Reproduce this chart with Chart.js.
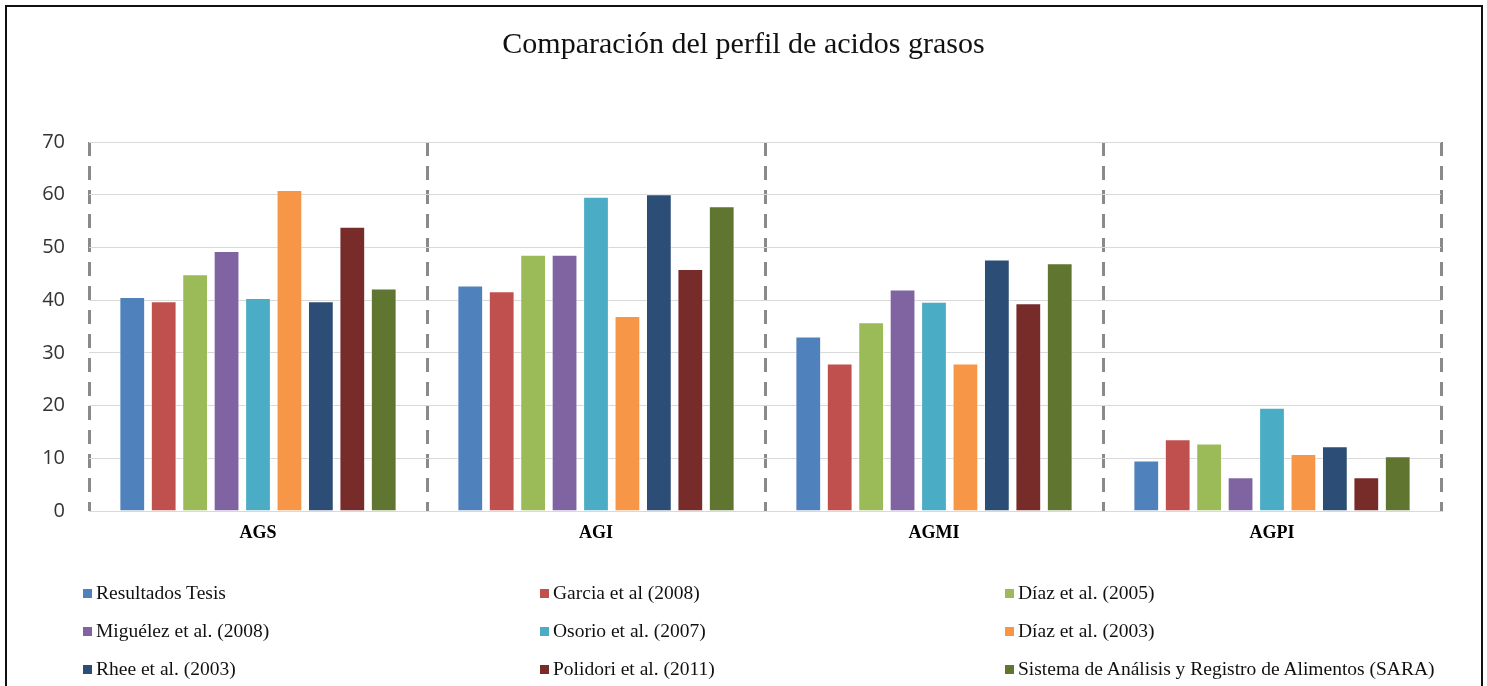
<!DOCTYPE html>
<html lang="es">
  <head>
    <meta charset="UTF-8" />
    <title>Comparación del perfil de acidos grasos</title>
    <style>
      * {
        box-sizing: border-box;
        margin: 0;
        padding: 0;
      }

      body {
        background-color: #ffffff;
        overflow: hidden;
      }

      .chart-wrap {
        position: relative;
        width: 1487px;
        height: 686px;
      }

      .frame {
        position: absolute;
        left: 5px;
        top: 5px;
        width: 1478px;
        height: 720px;
        border: 2px solid #111;
        pointer-events: none;
      }

      .legend-item {
        position: absolute;
        display: flex;
        align-items: center;
        font-family: "Liberation Serif", "Times New Roman", serif;
        font-size: 19.5px;
        color: #111;
        white-space: nowrap;
        height: 20px;
      }

      .legend-box {
        width: 9px;
        height: 9px;
        margin-right: 4px;
      }
    </style>
    <script src="https://cdn.jsdelivr.net/npm/chart.js"></script>
  </head>
  <body>
    <div class="chart-wrap">
      <canvas id="acidosChart"></canvas>
      <div class="frame"></div>
      <div id="legend"></div>
    </div>
    <script>
      const categories = ["AGS", "AGI", "AGMI", "AGPI"];
      const yTicks = [0, 10, 20, 30, 40, 50, 60, 70];

      const seriesNames = [
        "Resultados Tesis",
        "Garcia et al (2008)",
        "Díaz et al. (2005)",
        "Miguélez et al. (2008)",
        "Osorio et al. (2007)",
        "Díaz et al. (2003)",
        "Rhee et al. (2003)",
        "Polidori et al. (2011)",
        "Sistema de Análisis y Registro de Alimentos (SARA)",
      ];

      const resultadosTesis = [40.6, 42.8, 33.1, 9.6];
      const garcia2008 = [39.8, 41.7, 28.0, 13.6];
      const diaz2005 = [44.9, 48.6, 35.8, 12.8];
      const miguelez2008 = [49.3, 48.6, 42.0, 6.4];
      const osorio2007 = [40.4, 59.6, 39.7, 19.6];
      const diaz2003 = [60.9, 37.0, 28.0, 10.8];
      const rhee2003 = [39.8, 60.1, 47.7, 12.3];
      const polidori2011 = [53.9, 45.9, 39.4, 6.4];
      const sara = [42.2, 57.8, 47.0, 10.4];

      const seriesValues = [
        resultadosTesis,
        garcia2008,
        diaz2005,
        miguelez2008,
        osorio2007,
        diaz2003,
        rhee2003,
        polidori2011,
        sara,
      ];

      const colors = [
        "#4f81bd",
        "#c0504d",
        "#9bbb59",
        "#8064a2",
        "#4bacc6",
        "#f79646",
        "#2c4d75",
        "#772c2a",
        "#5f7530",
      ];

      // legend in three columns, like the original
      const legendCols = [83, 540, 1005];
      const legendRows = [583, 621, 659];

      function buildLegend() {
        const legend = document.getElementById("legend");
        seriesNames.forEach((name, i) => {
          const item = document.createElement("div");
          item.className = "legend-item";
          item.style.left = legendCols[i % 3] + "px";
          item.style.top = legendRows[Math.floor(i / 3)] + "px";
          const box = document.createElement("span");
          box.className = "legend-box";
          box.style.backgroundColor = colors[i];
          const text = document.createElement("span");
          text.textContent = name;
          item.appendChild(box);
          item.appendChild(text);
          legend.appendChild(item);
        });
      }

      function initChart() {
        const ctx = document.getElementById("acidosChart").getContext("2d");

        const datasets = seriesNames.map((name, i) => ({
          label: name,
          data: seriesValues[i],
          backgroundColor: colors[i],
          borderColor: "rgba(255,255,255,0.45)",
          borderWidth: 1,
          categoryPercentage: 0.837,
          barPercentage: 0.82,
        }));

        new Chart(ctx, {
          type: "bar",
          data: {
            labels: categories,
            datasets: datasets,
          },
          options: {
            responsive: true,
            maintainAspectRatio: false,
            animation: false,
            layout: {
              padding: 0,
            },
            plugins: {
              legend: { display: false },
              tooltip: { enabled: false },
              title: {
                display: true,
                text: "Comparación del perfil de acidos grasos",
                color: "#111",
                font: {
                  family: "'Liberation Serif', 'Times New Roman', serif",
                  size: 30,
                  weight: "normal",
                },
                padding: { top: 27, bottom: 79 },
              },
            },
            scales: {
              x: {
                offset: true,
                grid: {
                  offset: true,
                  color: "#8a8a8a",
                  lineWidth: 3,
                  drawTicks: false,
                },
                border: {
                  display: true,
                  color: "#d9d9d9",
                  width: 1,
                  dash: [14, 10],
                },
                ticks: {
                  padding: 12,
                  color: "#000",
                  font: {
                    family: "'Liberation Serif', 'Times New Roman', serif",
                    size: 18,
                    weight: "bold",
                  },
                },
                afterFit: (scale) => {
                  scale.height = 175;
                },
              },
              y: {
                min: yTicks[0],
                max: yTicks[yTicks.length - 1],
                grid: {
                  color: "#d9d9d9",
                  lineWidth: 1,
                  drawTicks: false,
                },
                border: { display: false },
                ticks: {
                  stepSize: 10,
                  padding: 24,
                  color: "#333",
                  font: {
                    family: "'Open Sans', sans-serif",
                    size: 20,
                  },
                },
                afterFit: (scale) => {
                  scale.width = 89;
                },
              },
              // empty right axis: keeps the right margin so the title stays centred on the page
              yRight: {
                position: "right",
                min: yTicks[0],
                max: yTicks[yTicks.length - 1],
                grid: { display: false, drawOnChartArea: false },
                border: { display: false },
                ticks: { display: false },
                afterFit: (scale) => {
                  scale.width = 46;
                },
              },
            },
          },
        });
      }

      buildLegend();
      initChart();
    </script>
  </body>
</html>
